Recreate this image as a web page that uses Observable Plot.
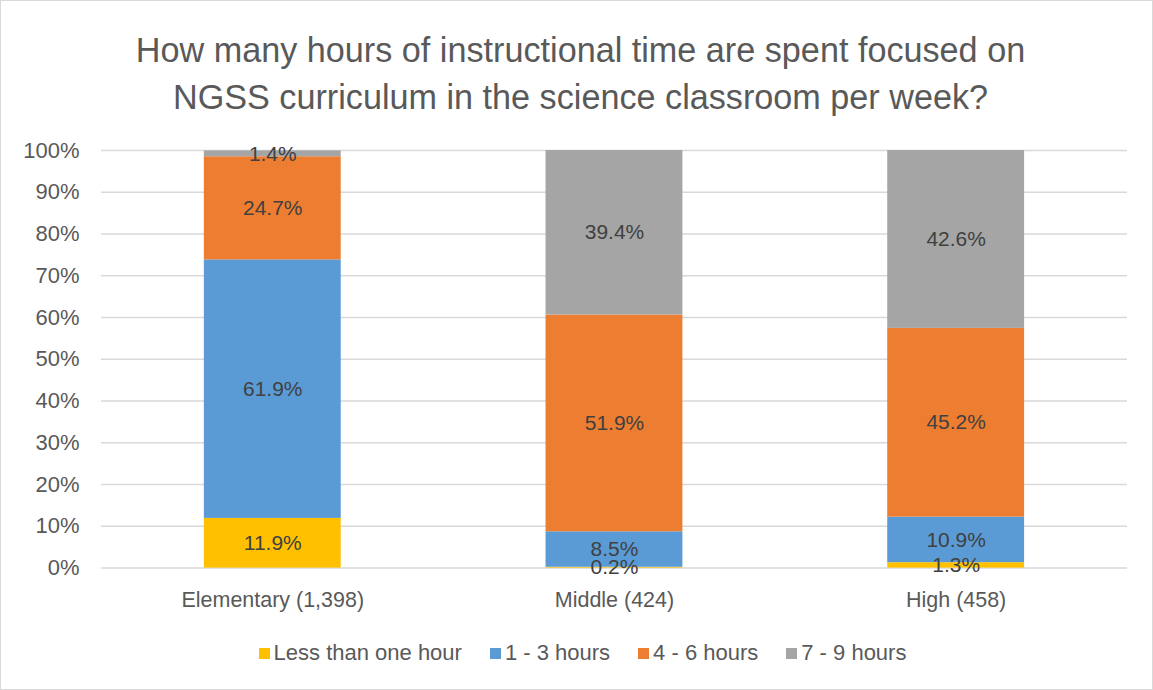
<!DOCTYPE html>
<html>
<head>
<meta charset="utf-8">
<script src="https://cdn.jsdelivr.net/npm/d3@7"></script>
<script src="https://cdn.jsdelivr.net/npm/@observablehq/plot@0.6"></script>
<style>
  html, body { margin: 0; padding: 0; background: #fff; }
  #wrap { position: relative; width: 1153px; height: 690px; box-sizing: border-box; border: 1px solid #d9d9d9; font-family: "Liberation Sans", Arial, sans-serif; overflow: hidden; }
  #title { position: absolute; left: 4px; top: 26px; width: 1151px; text-align: center; font-size: 34.2px; line-height: 47px; color: #595959; }
  #chart { position: absolute; left: -1px; top: 129px; }
  #legend { position: absolute; left: 6px; top: 639px; width: 1151px; height: 26px; display: flex; justify-content: center; align-items: center; font-size: 22px; color: #595959; }
  .item { display: flex; align-items: center; margin-left: 28px; }
  .item:first-child { margin-left: 0; }
  .sw { width: 11px; height: 11px; margin-right: 4px; }
</style>
</head>
<body>
<div id="wrap">
  <div id="title">How many hours of instructional time are spent focused on<br>NGSS curriculum in the science classroom per week?</div>
  <div id="chart"></div>
  <div id="legend"></div>
</div>
<script>
const categories = ["Elementary (1,398)", "Middle (424)", "High (458)"];
const seriesNames = ["Less than one hour", "1 - 3 hours", "4 - 6 hours", "7 - 9 hours"];
const seriesColors = ["#FFC000", "#5B9BD5", "#ED7D31", "#A5A5A5"];
const lessThanOne = [11.9, 0.2, 1.3];
const oneToThree = [61.9, 8.5, 10.9];
const fourToSix = [24.7, 51.9, 45.2];
const sevenToNine = [1.4, 39.4, 42.6];
const yTicks = [0, 10, 20, 30, 40, 50, 60, 70, 80, 90, 100];

const seriesValues = [lessThanOne, oneToThree, fourToSix, sevenToNine];
const data = [];
categories.forEach((c, i) => {
  seriesNames.forEach((s, j) => {
    data.push({cat: c, series: s, value: seriesValues[j][i]});
  });
});

const fontFamily = '"Liberation Sans", Arial, sans-serif';
const plot = Plot.plot({
  width: 1153,
  height: 490,
  marginLeft: 101,
  marginRight: 25,
  marginTop: 20,
  marginBottom: 52,
  style: {fontFamily, fontSize: "21px", color: "#595959", background: "transparent"},
  x: {domain: categories, paddingInner: 0.6, paddingOuter: 0.3, label: null},
  y: {domain: [0, 100], label: null},
  color: {domain: seriesNames, range: seriesColors},
  marks: [
    Plot.gridY(yTicks, {stroke: "#d9d9d9", strokeOpacity: 1, strokeWidth: 1.5}),
    Plot.barY(data, Plot.stackY({x: "cat", y: "value", fill: "series", z: "series"})),
    Plot.text(data, Plot.stackY({x: "cat", y: "value", z: "series", text: d => d.value.toFixed(1) + "%", fill: "#404040", fontSize: 21})),
    Plot.axisY({ticks: yTicks, tickFormat: d => d + "%", tickSize: 0, tickPadding: 22, fontSize: 22, label: null}),
    Plot.axisX({tickSize: 0, tickPadding: 24, fontSize: 21.5, label: null})
  ]
});
document.getElementById("chart").appendChild(plot);

const legend = document.getElementById("legend");
seriesNames.forEach((s, j) => {
  const it = document.createElement("div");
  it.className = "item";
  const sw = document.createElement("div");
  sw.className = "sw";
  sw.style.background = seriesColors[j];
  const lab = document.createElement("span");
  lab.textContent = s;
  it.appendChild(sw);
  it.appendChild(lab);
  legend.appendChild(it);
});
</script>
</body>
</html>
